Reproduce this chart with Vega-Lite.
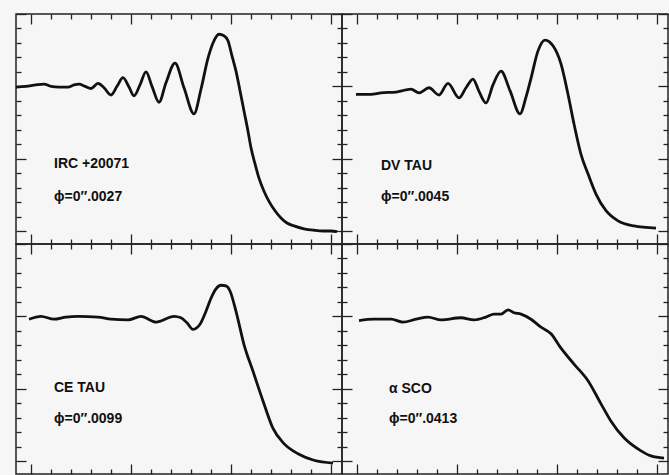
{
  "$schema": "https://vega.github.io/schema/vega-lite/v6.json",
  "background": "#f6f6f6",
  "padding": {"left": 9, "top": 12, "right": 0, "bottom": 0},
  "bounds": "flush",
  "config": {
    "view": {"stroke": "#222", "strokeWidth": 1.5},
    "axis": {"labels": false, "title": null, "grid": false, "domain": false, "tickColor": "#222", "tickWidth": 1.3, "minExtent": 0, "maxExtent": 0}
  },
  "datasets": {
    "curves": [
      {"star": "IRC +20071", "t": -0.15, "f": 1.99},
      {"star": "IRC +20071", "t": -0.05, "f": 2.00},
      {"star": "IRC +20071", "t": 0.05, "f": 2.02},
      {"star": "IRC +20071", "t": 0.13, "f": 2.03},
      {"star": "IRC +20071", "t": 0.20, "f": 2.00},
      {"star": "IRC +20071", "t": 0.28, "f": 1.99},
      {"star": "IRC +20071", "t": 0.37, "f": 1.99},
      {"star": "IRC +20071", "t": 0.43, "f": 2.02},
      {"star": "IRC +20071", "t": 0.48, "f": 2.03},
      {"star": "IRC +20071", "t": 0.54, "f": 2.00},
      {"star": "IRC +20071", "t": 0.60, "f": 1.97},
      {"star": "IRC +20071", "t": 0.67, "f": 2.04},
      {"star": "IRC +20071", "t": 0.73, "f": 1.98},
      {"star": "IRC +20071", "t": 0.80, "f": 1.88},
      {"star": "IRC +20071", "t": 0.86, "f": 2.00},
      {"star": "IRC +20071", "t": 0.92, "f": 2.12},
      {"star": "IRC +20071", "t": 0.98, "f": 1.99},
      {"star": "IRC +20071", "t": 1.03, "f": 1.87},
      {"star": "IRC +20071", "t": 1.09, "f": 2.02},
      {"star": "IRC +20071", "t": 1.15, "f": 2.20},
      {"star": "IRC +20071", "t": 1.21, "f": 2.00},
      {"star": "IRC +20071", "t": 1.28, "f": 1.78},
      {"star": "IRC +20071", "t": 1.35, "f": 2.05},
      {"star": "IRC +20071", "t": 1.44, "f": 2.32},
      {"star": "IRC +20071", "t": 1.53, "f": 1.98},
      {"star": "IRC +20071", "t": 1.63, "f": 1.62},
      {"star": "IRC +20071", "t": 1.70, "f": 1.96},
      {"star": "IRC +20071", "t": 1.77, "f": 2.39},
      {"star": "IRC +20071", "t": 1.82, "f": 2.60},
      {"star": "IRC +20071", "t": 1.88, "f": 2.72},
      {"star": "IRC +20071", "t": 1.93, "f": 2.70},
      {"star": "IRC +20071", "t": 1.97, "f": 2.63},
      {"star": "IRC +20071", "t": 2.01, "f": 2.42},
      {"star": "IRC +20071", "t": 2.05, "f": 2.21},
      {"star": "IRC +20071", "t": 2.09, "f": 1.94},
      {"star": "IRC +20071", "t": 2.13, "f": 1.66},
      {"star": "IRC +20071", "t": 2.17, "f": 1.38},
      {"star": "IRC +20071", "t": 2.20, "f": 1.15},
      {"star": "IRC +20071", "t": 2.24, "f": 0.93},
      {"star": "IRC +20071", "t": 2.28, "f": 0.73},
      {"star": "IRC +20071", "t": 2.33, "f": 0.55},
      {"star": "IRC +20071", "t": 2.38, "f": 0.41},
      {"star": "IRC +20071", "t": 2.44, "f": 0.28},
      {"star": "IRC +20071", "t": 2.50, "f": 0.18},
      {"star": "IRC +20071", "t": 2.56, "f": 0.11},
      {"star": "IRC +20071", "t": 2.63, "f": 0.07},
      {"star": "IRC +20071", "t": 2.73, "f": 0.03},
      {"star": "IRC +20071", "t": 2.83, "f": 0.01},
      {"star": "IRC +20071", "t": 2.92, "f": 0.00},
      {"star": "IRC +20071", "t": 3.00, "f": 0.00},
      {"star": "IRC +20071", "t": 3.06, "f": -0.01},

      {"star": "DV TAU", "t": -0.01, "f": 1.89},
      {"star": "DV TAU", "t": 0.14, "f": 1.89},
      {"star": "DV TAU", "t": 0.24, "f": 1.91},
      {"star": "DV TAU", "t": 0.39, "f": 1.92},
      {"star": "DV TAU", "t": 0.49, "f": 1.95},
      {"star": "DV TAU", "t": 0.54, "f": 1.96},
      {"star": "DV TAU", "t": 0.62, "f": 1.91},
      {"star": "DV TAU", "t": 0.72, "f": 1.98},
      {"star": "DV TAU", "t": 0.82, "f": 1.88},
      {"star": "DV TAU", "t": 0.91, "f": 2.04},
      {"star": "DV TAU", "t": 1.02, "f": 1.84},
      {"star": "DV TAU", "t": 1.09, "f": 1.98},
      {"star": "DV TAU", "t": 1.16, "f": 2.10},
      {"star": "DV TAU", "t": 1.22, "f": 1.93},
      {"star": "DV TAU", "t": 1.29, "f": 1.77},
      {"star": "DV TAU", "t": 1.36, "f": 2.02},
      {"star": "DV TAU", "t": 1.44, "f": 2.21},
      {"star": "DV TAU", "t": 1.53, "f": 1.94},
      {"star": "DV TAU", "t": 1.63, "f": 1.62},
      {"star": "DV TAU", "t": 1.69, "f": 1.85},
      {"star": "DV TAU", "t": 1.74, "f": 2.11},
      {"star": "DV TAU", "t": 1.81, "f": 2.49},
      {"star": "DV TAU", "t": 1.88, "f": 2.64},
      {"star": "DV TAU", "t": 1.96, "f": 2.56},
      {"star": "DV TAU", "t": 2.04, "f": 2.31},
      {"star": "DV TAU", "t": 2.11, "f": 1.89},
      {"star": "DV TAU", "t": 2.17, "f": 1.48},
      {"star": "DV TAU", "t": 2.24, "f": 1.06},
      {"star": "DV TAU", "t": 2.31, "f": 0.79},
      {"star": "DV TAU", "t": 2.39, "f": 0.51},
      {"star": "DV TAU", "t": 2.49, "f": 0.28},
      {"star": "DV TAU", "t": 2.61, "f": 0.14},
      {"star": "DV TAU", "t": 2.77, "f": 0.07},
      {"star": "DV TAU", "t": 2.99, "f": 0.04},

      {"star": "CE TAU", "t": -0.02, "f": 1.96},
      {"star": "CE TAU", "t": 0.10, "f": 2.00},
      {"star": "CE TAU", "t": 0.23, "f": 1.96},
      {"star": "CE TAU", "t": 0.35, "f": 1.99},
      {"star": "CE TAU", "t": 0.47, "f": 2.00},
      {"star": "CE TAU", "t": 0.67, "f": 1.99},
      {"star": "CE TAU", "t": 0.80, "f": 1.96},
      {"star": "CE TAU", "t": 0.97, "f": 1.95},
      {"star": "CE TAU", "t": 1.10, "f": 2.00},
      {"star": "CE TAU", "t": 1.25, "f": 1.92},
      {"star": "CE TAU", "t": 1.43, "f": 2.00},
      {"star": "CE TAU", "t": 1.50, "f": 1.98},
      {"star": "CE TAU", "t": 1.56, "f": 1.91},
      {"star": "CE TAU", "t": 1.62, "f": 1.82},
      {"star": "CE TAU", "t": 1.69, "f": 1.89},
      {"star": "CE TAU", "t": 1.75, "f": 2.07},
      {"star": "CE TAU", "t": 1.80, "f": 2.25},
      {"star": "CE TAU", "t": 1.85, "f": 2.38},
      {"star": "CE TAU", "t": 1.90, "f": 2.43},
      {"star": "CE TAU", "t": 1.95, "f": 2.42},
      {"star": "CE TAU", "t": 1.99, "f": 2.35},
      {"star": "CE TAU", "t": 2.05, "f": 2.07},
      {"star": "CE TAU", "t": 2.13, "f": 1.61},
      {"star": "CE TAU", "t": 2.22, "f": 1.24},
      {"star": "CE TAU", "t": 2.32, "f": 0.83},
      {"star": "CE TAU", "t": 2.42, "f": 0.45},
      {"star": "CE TAU", "t": 2.53, "f": 0.24},
      {"star": "CE TAU", "t": 2.67, "f": 0.10},
      {"star": "CE TAU", "t": 2.83, "f": 0.01},
      {"star": "CE TAU", "t": 3.02, "f": -0.03},

      {"star": "α SCO", "t": 0.02, "f": 1.94},
      {"star": "α SCO", "t": 0.17, "f": 1.96},
      {"star": "α SCO", "t": 0.34, "f": 1.96},
      {"star": "α SCO", "t": 0.46, "f": 1.92},
      {"star": "α SCO", "t": 0.59, "f": 1.96},
      {"star": "α SCO", "t": 0.71, "f": 1.99},
      {"star": "α SCO", "t": 0.84, "f": 1.95},
      {"star": "α SCO", "t": 1.04, "f": 1.98},
      {"star": "α SCO", "t": 1.17, "f": 1.95},
      {"star": "α SCO", "t": 1.29, "f": 1.99},
      {"star": "α SCO", "t": 1.37, "f": 2.03},
      {"star": "α SCO", "t": 1.44, "f": 2.03},
      {"star": "α SCO", "t": 1.51, "f": 2.09},
      {"star": "α SCO", "t": 1.57, "f": 2.05},
      {"star": "α SCO", "t": 1.64, "f": 2.03},
      {"star": "α SCO", "t": 1.74, "f": 1.96},
      {"star": "α SCO", "t": 1.84, "f": 1.85},
      {"star": "α SCO", "t": 1.94, "f": 1.76},
      {"star": "α SCO", "t": 2.04, "f": 1.56},
      {"star": "α SCO", "t": 2.17, "f": 1.34},
      {"star": "α SCO", "t": 2.31, "f": 1.11},
      {"star": "α SCO", "t": 2.44, "f": 0.79},
      {"star": "α SCO", "t": 2.54, "f": 0.55},
      {"star": "α SCO", "t": 2.67, "f": 0.32},
      {"star": "α SCO", "t": 2.84, "f": 0.14},
      {"star": "α SCO", "t": 2.94, "f": 0.07},
      {"star": "α SCO", "t": 3.07, "f": 0.04}
    ],
    "labels": [
      {"star": "IRC +20071", "t": 0.23, "f": 0.93, "text": "IRC +20071"},
      {"star": "IRC +20071", "t": 0.23, "f": 0.47, "text": "ϕ=0″.0027"},
      {"star": "DV TAU", "t": 0.24, "f": 0.90, "text": "DV TAU"},
      {"star": "DV TAU", "t": 0.24, "f": 0.47, "text": "ϕ=0″.0045"},
      {"star": "CE TAU", "t": 0.23, "f": 1.01, "text": "CE TAU"},
      {"star": "CE TAU", "t": 0.23, "f": 0.58, "text": "ϕ=0″.0099"},
      {"star": "α SCO", "t": 0.32, "f": 0.99, "text": "α  SCO"},
      {"star": "α SCO", "t": 0.32, "f": 0.58, "text": "ϕ=0″.0413"}
    ]
  },
  "columns": 2,
  "spacing": 0,
  "concat": [
    {
      "width": 326, "height": 230,
      "layer": [
        {"data": {"name": "curves"}, "transform": [{"filter": "datum.star === 'IRC +20071'"}], "mark": {"type": "line", "color": "#111", "strokeWidth": 2.8, "interpolate": "monotone"},
         "encoding": {
           "x": {"field": "t", "type": "quantitative", "scale": {"domain": [-0.15, 3.11], "nice": false, "zero": false}, "axis": {"orient": "bottom", "values": [0,1,2,3], "tickSize": 10, "offset": -10}},
           "y": {"field": "f", "type": "quantitative", "scale": {"domain": [-0.18, 3.0], "nice": false, "zero": false}, "axis": {"orient": "left", "values": [0,1,2,3], "tickSize": 10, "offset": -10}}
         }},
        {"data": {"name": "labels"}, "transform": [{"filter": "datum.star === 'IRC +20071'"}], "mark": {"type": "text", "opacity": 0, "fontSize": 1},
         "encoding": {
           "x": {"field": "t", "type": "quantitative", "axis": {"orient": "top", "values": [0,1,2,3], "tickSize": 10, "offset": -10}},
           "y": {"field": "f", "type": "quantitative", "axis": {"orient": "right", "values": [0,1,2,3], "tickSize": 10, "offset": -10}},
           "text": {"value": "."}
         }},
        {"data": {"name": "labels"}, "transform": [{"filter": "datum.star === 'IRC +20071'"}], "mark": {"type": "text", "opacity": 0, "fontSize": 1},
         "encoding": {
           "x": {"field": "t", "type": "quantitative", "axis": {"orient": "bottom", "values": [0.2,0.4,0.6,0.8,1.2,1.4,1.6,1.8,2.2,2.4,2.6,2.8], "tickSize": 5, "offset": -5}},
           "y": {"field": "f", "type": "quantitative", "axis": {"orient": "left", "values": [0.2,0.4,0.6,0.8,1.2,1.4,1.6,1.8,2.2,2.4,2.6,2.8], "tickSize": 5, "offset": -5}},
           "text": {"value": "."}
         }},
        {"data": {"name": "labels"}, "transform": [{"filter": "datum.star === 'IRC +20071'"}], "mark": {"type": "text", "align": "left", "baseline": "middle", "font": "Liberation Sans", "fontWeight": "bold", "fontSize": 14, "color": "#111"},
         "encoding": {
           "x": {"field": "t", "type": "quantitative", "axis": {"orient": "top", "values": [0.2,0.4,0.6,0.8,1.2,1.4,1.6,1.8,2.2,2.4,2.6,2.8], "tickSize": 5, "offset": -5}},
           "y": {"field": "f", "type": "quantitative", "axis": {"orient": "right", "values": [0.2,0.4,0.6,0.8,1.2,1.4,1.6,1.8,2.2,2.4,2.6,2.8], "tickSize": 5, "offset": -5}},
           "text": {"field": "text"}
         }}
      ],
      "resolve": {"axis": {"x": "independent", "y": "independent"}}
    },
    {
      "width": 326, "height": 230,
      "layer": [
        {"data": {"name": "curves"}, "transform": [{"filter": "datum.star === 'DV TAU'"}], "mark": {"type": "line", "color": "#111", "strokeWidth": 2.8, "interpolate": "monotone"},
         "encoding": {
           "x": {"field": "t", "type": "quantitative", "scale": {"domain": [-0.15, 3.11], "nice": false, "zero": false}, "axis": {"orient": "bottom", "values": [0,1,2,3], "tickSize": 10, "offset": -10}},
           "y": {"field": "f", "type": "quantitative", "scale": {"domain": [-0.18, 3.0], "nice": false, "zero": false}, "axis": {"orient": "left", "values": [0,1,2,3], "tickSize": 10, "offset": -10}}
         }},
        {"data": {"name": "labels"}, "transform": [{"filter": "datum.star === 'DV TAU'"}], "mark": {"type": "text", "opacity": 0, "fontSize": 1},
         "encoding": {
           "x": {"field": "t", "type": "quantitative", "axis": {"orient": "top", "values": [0,1,2,3], "tickSize": 10, "offset": -10}},
           "y": {"field": "f", "type": "quantitative", "axis": {"orient": "right", "values": [0,1,2,3], "tickSize": 10, "offset": -10}},
           "text": {"value": "."}
         }},
        {"data": {"name": "labels"}, "transform": [{"filter": "datum.star === 'DV TAU'"}], "mark": {"type": "text", "opacity": 0, "fontSize": 1},
         "encoding": {
           "x": {"field": "t", "type": "quantitative", "axis": {"orient": "bottom", "values": [0.2,0.4,0.6,0.8,1.2,1.4,1.6,1.8,2.2,2.4,2.6,2.8], "tickSize": 5, "offset": -5}},
           "y": {"field": "f", "type": "quantitative", "axis": {"orient": "left", "values": [0.2,0.4,0.6,0.8,1.2,1.4,1.6,1.8,2.2,2.4,2.6,2.8], "tickSize": 5, "offset": -5}},
           "text": {"value": "."}
         }},
        {"data": {"name": "labels"}, "transform": [{"filter": "datum.star === 'DV TAU'"}], "mark": {"type": "text", "align": "left", "baseline": "middle", "font": "Liberation Sans", "fontWeight": "bold", "fontSize": 14, "color": "#111"},
         "encoding": {
           "x": {"field": "t", "type": "quantitative", "axis": {"orient": "top", "values": [0.2,0.4,0.6,0.8,1.2,1.4,1.6,1.8,2.2,2.4,2.6,2.8], "tickSize": 5, "offset": -5}},
           "y": {"field": "f", "type": "quantitative", "axis": {"orient": "right", "values": [0.2,0.4,0.6,0.8,1.2,1.4,1.6,1.8,2.2,2.4,2.6,2.8], "tickSize": 5, "offset": -5}},
           "text": {"field": "text"}
         }}
      ],
      "resolve": {"axis": {"x": "independent", "y": "independent"}}
    },
    {
      "width": 326, "height": 230,
      "layer": [
        {"data": {"name": "curves"}, "transform": [{"filter": "datum.star === 'CE TAU'"}], "mark": {"type": "line", "color": "#111", "strokeWidth": 2.8, "interpolate": "monotone"},
         "encoding": {
           "x": {"field": "t", "type": "quantitative", "scale": {"domain": [-0.15, 3.11], "nice": false, "zero": false}, "axis": {"orient": "bottom", "values": [0,1,2,3], "tickSize": 10, "offset": -10}},
           "y": {"field": "f", "type": "quantitative", "scale": {"domain": [-0.18, 3.0], "nice": false, "zero": false}, "axis": {"orient": "left", "values": [0,1,2,3], "tickSize": 10, "offset": -10}}
         }},
        {"data": {"name": "labels"}, "transform": [{"filter": "datum.star === 'CE TAU'"}], "mark": {"type": "text", "opacity": 0, "fontSize": 1},
         "encoding": {
           "x": {"field": "t", "type": "quantitative", "axis": {"orient": "top", "values": [0,1,2,3], "tickSize": 10, "offset": -10}},
           "y": {"field": "f", "type": "quantitative", "axis": {"orient": "right", "values": [0,1,2,3], "tickSize": 10, "offset": -10}},
           "text": {"value": "."}
         }},
        {"data": {"name": "labels"}, "transform": [{"filter": "datum.star === 'CE TAU'"}], "mark": {"type": "text", "opacity": 0, "fontSize": 1},
         "encoding": {
           "x": {"field": "t", "type": "quantitative", "axis": {"orient": "bottom", "values": [0.2,0.4,0.6,0.8,1.2,1.4,1.6,1.8,2.2,2.4,2.6,2.8], "tickSize": 5, "offset": -5}},
           "y": {"field": "f", "type": "quantitative", "axis": {"orient": "left", "values": [0.2,0.4,0.6,0.8,1.2,1.4,1.6,1.8,2.2,2.4,2.6,2.8], "tickSize": 5, "offset": -5}},
           "text": {"value": "."}
         }},
        {"data": {"name": "labels"}, "transform": [{"filter": "datum.star === 'CE TAU'"}], "mark": {"type": "text", "align": "left", "baseline": "middle", "font": "Liberation Sans", "fontWeight": "bold", "fontSize": 14, "color": "#111"},
         "encoding": {
           "x": {"field": "t", "type": "quantitative", "axis": {"orient": "top", "values": [0.2,0.4,0.6,0.8,1.2,1.4,1.6,1.8,2.2,2.4,2.6,2.8], "tickSize": 5, "offset": -5}},
           "y": {"field": "f", "type": "quantitative", "axis": {"orient": "right", "values": [0.2,0.4,0.6,0.8,1.2,1.4,1.6,1.8,2.2,2.4,2.6,2.8], "tickSize": 5, "offset": -5}},
           "text": {"field": "text"}
         }}
      ],
      "resolve": {"axis": {"x": "independent", "y": "independent"}}
    },
    {
      "width": 326, "height": 230,
      "layer": [
        {"data": {"name": "curves"}, "transform": [{"filter": "datum.star === 'α SCO'"}], "mark": {"type": "line", "color": "#111", "strokeWidth": 2.8, "interpolate": "monotone"},
         "encoding": {
           "x": {"field": "t", "type": "quantitative", "scale": {"domain": [-0.15, 3.11], "nice": false, "zero": false}, "axis": {"orient": "bottom", "values": [0,1,2,3], "tickSize": 10, "offset": -10}},
           "y": {"field": "f", "type": "quantitative", "scale": {"domain": [-0.18, 3.0], "nice": false, "zero": false}, "axis": {"orient": "left", "values": [0,1,2,3], "tickSize": 10, "offset": -10}}
         }},
        {"data": {"name": "labels"}, "transform": [{"filter": "datum.star === 'α SCO'"}], "mark": {"type": "text", "opacity": 0, "fontSize": 1},
         "encoding": {
           "x": {"field": "t", "type": "quantitative", "axis": {"orient": "top", "values": [0,1,2,3], "tickSize": 10, "offset": -10}},
           "y": {"field": "f", "type": "quantitative", "axis": {"orient": "right", "values": [0,1,2,3], "tickSize": 10, "offset": -10}},
           "text": {"value": "."}
         }},
        {"data": {"name": "labels"}, "transform": [{"filter": "datum.star === 'α SCO'"}], "mark": {"type": "text", "opacity": 0, "fontSize": 1},
         "encoding": {
           "x": {"field": "t", "type": "quantitative", "axis": {"orient": "bottom", "values": [0.2,0.4,0.6,0.8,1.2,1.4,1.6,1.8,2.2,2.4,2.6,2.8], "tickSize": 5, "offset": -5}},
           "y": {"field": "f", "type": "quantitative", "axis": {"orient": "left", "values": [0.2,0.4,0.6,0.8,1.2,1.4,1.6,1.8,2.2,2.4,2.6,2.8], "tickSize": 5, "offset": -5}},
           "text": {"value": "."}
         }},
        {"data": {"name": "labels"}, "transform": [{"filter": "datum.star === 'α SCO'"}], "mark": {"type": "text", "align": "left", "baseline": "middle", "font": "Liberation Sans", "fontWeight": "bold", "fontSize": 14, "color": "#111"},
         "encoding": {
           "x": {"field": "t", "type": "quantitative", "axis": {"orient": "top", "values": [0.2,0.4,0.6,0.8,1.2,1.4,1.6,1.8,2.2,2.4,2.6,2.8], "tickSize": 5, "offset": -5}},
           "y": {"field": "f", "type": "quantitative", "axis": {"orient": "right", "values": [0.2,0.4,0.6,0.8,1.2,1.4,1.6,1.8,2.2,2.4,2.6,2.8], "tickSize": 5, "offset": -5}},
           "text": {"field": "text"}
         }}
      ],
      "resolve": {"axis": {"x": "independent", "y": "independent"}}
    }
  ]
}
